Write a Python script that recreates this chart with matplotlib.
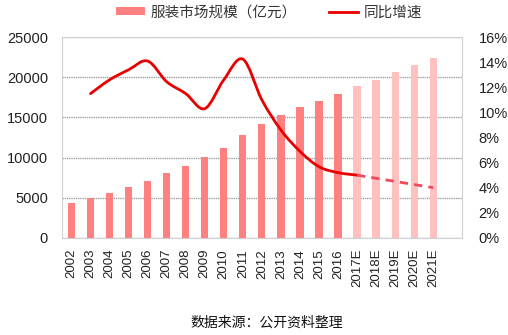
import numpy as np
import matplotlib
matplotlib.use('Agg')
import matplotlib.pyplot as plt
from matplotlib.path import Path
from matplotlib.patches import PathPatch, Patch
from matplotlib.lines import Line2D

plt.rcParams['font.family'] = ['Liberation Sans', 'Noto Sans CJK SC', 'DejaVu Sans']

# data
years = ['2002', '2003', '2004', '2005', '2006', '2007', '2008', '2009', '2010', '2011',
         '2012', '2013', '2014', '2015', '2016', '2017E', '2018E', '2019E', '2020E', '2021E']
market = [4380, 5000, 5550, 6300, 7130, 8100, 9000, 10050, 11200, 12800,
          14200, 15300, 16250, 17100, 17960, 18900, 19700, 20700, 21550, 22460]
forecast = [False] * 15 + [True] * 5
# growth in %, 2003 .. 2017E (solid, smoothed)
growth = [11.5, 12.6, 13.4, 14.1, 12.45, 11.5, 10.3, 12.6, 14.25,
          11.0, 8.6, 6.9, 5.67, 5.2, 5.0]
# growth in %, 2017E .. 2021E (dashed)
growth_fc = [5.0, 4.75, 4.5, 4.25, 4.0]

BAR_COL = '#FF8080'
BAR_FC_COL = '#FFC0C0'
LINE_COL = '#E80000'
DASH_COL = '#F04A5A'
GRID_COL = '#A0A0A0'


def smooth_path(xs, ys):
    """Catmull-Rom style smoothing as bezier segments (like excel smoothed lines)"""
    pts = np.column_stack([xs, ys]).astype(float)
    n = len(pts)
    verts = [pts[0]]
    codes = [Path.MOVETO]
    for i in range(n - 1):
        p0 = pts[i - 1] if i > 0 else pts[i]
        p1 = pts[i]
        p2 = pts[i + 1]
        p3 = pts[i + 2] if i + 2 < n else pts[i + 1]
        c1 = p1 + (p2 - p0) / 6.0
        c2 = p2 - (p3 - p1) / 6.0
        verts += [c1, c2, p2]
        codes += [Path.CURVE4] * 3
    return Path(verts, codes)


fig = plt.figure(figsize=(5.08, 3.35), dpi=100)
ax = fig.add_axes([0.122, 0.29, 0.787, 0.599])
ax2 = ax.twinx()

x = np.arange(len(years))
cols = [BAR_FC_COL if f else BAR_COL for f in forecast]
ax.bar(x, market, width=0.38, color=cols, zorder=2)

ax.set_xlim(-0.5, len(years) + 0.5)
ax.set_ylim(0, 25000)
ax.set_yticks(np.arange(0, 25001, 5000))
ax.set_xticks(x)
ax.set_xticklabels(years, rotation=90, fontsize=9.5, color='#222222')
ax.tick_params(axis='y', labelsize=10.5, colors='#222222', length=0, pad=10)
ax.tick_params(axis='x', length=0, pad=8)
ax.grid(axis='y', color=GRID_COL, linestyle=(0, (1, 0.6)), linewidth=1.0, zorder=0)
ax.set_axisbelow(True)
for s in ax.spines.values():
    s.set_color('#D0D0D0')
    s.set_linewidth(0.8)

ax2.set_ylim(0, 16)
ax2.set_yticks(np.arange(0, 17, 2))
ax2.set_yticklabels([f'{v}%' for v in range(0, 17, 2)])
ax2.tick_params(axis='y', labelsize=10.5, colors='#222222', length=0, pad=12)
for s in ax2.spines.values():
    s.set_visible(False)

gx = x[1:16]
path = smooth_path(gx, growth)
ax2.add_patch(PathPatch(path, facecolor='none', edgecolor=LINE_COL, lw=2.0,
                        capstyle='round', zorder=3))
ax2.plot(x[15:20], growth_fc, color=DASH_COL, lw=2.0, linestyle=(0, (3, 2.2)), zorder=3)

handles = [Patch(facecolor=BAR_COL, edgecolor='none'),
           Line2D([0], [0], color=LINE_COL, lw=2)]
fig.legend(handles, ['服装市场规模（亿元）', '同比增速'], loc='center',
           bbox_to_anchor=(0.53, 0.963), ncol=2, frameon=False, fontsize=10.5,
           handlelength=2.0, handleheight=0.5, columnspacing=2.2, handletextpad=0.4,
           labelcolor='#333333')

fig.text(0.525, 0.036, '数据来源：公开资料整理', ha='center', va='center',
         fontsize=10, color='#111111')

fig.savefig('out.png', dpi=100)
